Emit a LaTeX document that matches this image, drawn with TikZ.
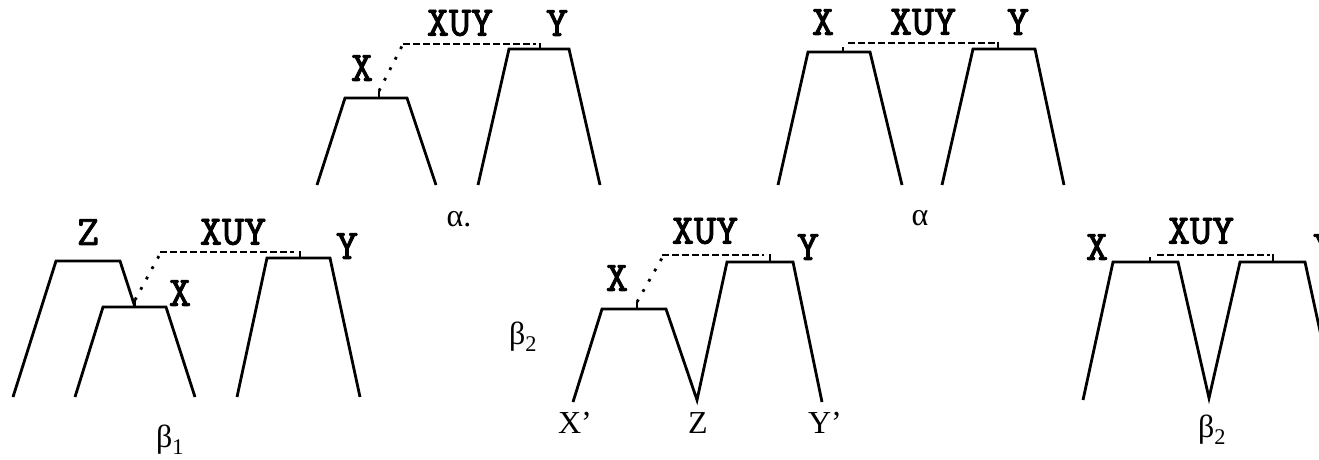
\documentclass[tikz,border=0pt]{standalone}
\usepackage{fontspec}
\setmainfont{Liberation Serif}
\newfontfamily\monof[FakeBold=2]{lmmono10-regular.otf}
\begin{document}
\begin{tikzpicture}[x=1pt,y=-1pt,
  line/.style={line width=2.8pt},
  dots/.style={line width=2.8pt,dash pattern=on 2.8pt off 9pt},
  dsh/.style={line width=2.8pt,dash pattern=on 6.5pt off 3.5pt},
  lbl/.style={inner sep=0pt,font=\fontsize{42}{44}\monof},
  gk/.style={inner sep=0pt,font=\fontsize{32}{36}\selectfont}]
\useasboundingbox (0,0) rectangle (1319,460);
\clip (0,0) rectangle (1319,460);
% ---- top middle panel (alpha.)
\draw[line] (317,185)--(345,98)--(407,98)--(436,185);
\draw[line] (379,98)--(379,91);
\draw[dots] (379,91)--(403,44);
\draw[dsh] (403,44)--(536,44);
\draw[line] (540,43)--(540,49);
\draw[line] (478,185)--(509,49)--(569,49)--(600,185);
\node[lbl] (tmX) at (362,68) {X};
\node[lbl] (tmXUY) at (460,23) {XUY};
\node[lbl] (tmY) at (557,23) {Y};
\node[gk] (tmA) at (459,219) {α.};
% ---- top right panel (alpha)
\draw[line] (778,185)--(808,52)--(870,52)--(902,185);
\draw[line] (843,52)--(843,47);
\draw[dsh] (848,43)--(996,43);
\draw[line] (998,42)--(998,49);
\draw[line] (942,185)--(973,49)--(1035,49)--(1064,185);
\node[lbl] (trX) at (823,22) {X};
\node[lbl] (trXUY) at (923,22) {XUY};
\node[lbl] (trY) at (1018,22) {Y};
\node[gk] (trA) at (920,218) {α};
% ---- bottom left panel (beta1)
\draw[line] (13,397)--(56,261)--(120,261)--(135,307);
\draw[line] (75,397)--(103,307)--(166,307)--(195,397);
\draw[line] (135,307)--(135,300);
\draw[dots] (135,300)--(160,254);
\draw[dsh] (160,252)--(294,252);
\draw[line] (300,251)--(300,258);
\draw[line] (237,397)--(267,258)--(330,258)--(360,397);
\node[lbl] (blZ) at (88,232) {Z};
\node[lbl] (blXUY) at (233,232) {XUY};
\node[lbl] (blY) at (347,246) {Y};
\node[lbl] (blX) at (180,293) {X};
\node[gk] (blB) at (170,440) {β\textsubscript{1}};
% ---- bottom middle panel (beta2)
\draw[line] (573,402)--(602,309)--(666,309)--(697,400)--(727,262)--(793,262)--(822,402);
\draw[line] (637,309)--(637,302);
\draw[dots] (637,302)--(662,258);
\draw[dsh] (662,255)--(764,255);
\draw[line] (770,254)--(770,262);
\node[lbl] (bmX) at (617,278) {X};
\node[lbl] (bmXUY) at (705,231) {XUY};
\node[lbl] (bmY) at (808,247) {Y};
\node[gk] (bmB) at (523,337) {β\textsubscript{2}};
\node[gk] (bmXp) at (575,423) {X’};
\node[gk] (bmZ) at (698,423) {Z};
\node[gk] (bmYp) at (825,423) {Y’};
% ---- bottom right panel (beta2)
\draw[line] (1083,400)--(1113,262)--(1178,262)--(1209,398)--(1240,262)--(1305,262)--(1335,400);
\draw[line] (1150,262)--(1150,257);
\draw[dsh] (1157,255)--(1270,255);
\draw[line] (1273,254)--(1273,262);
\node[lbl] (brX) at (1097,247) {X};
\node[lbl] (brXUY) at (1201,231) {XUY};
\node[lbl] (brY) at (1324,247) {Y};
\node[gk] (brB) at (1212,430) {β\textsubscript{2}};
\end{tikzpicture}
\end{document}
